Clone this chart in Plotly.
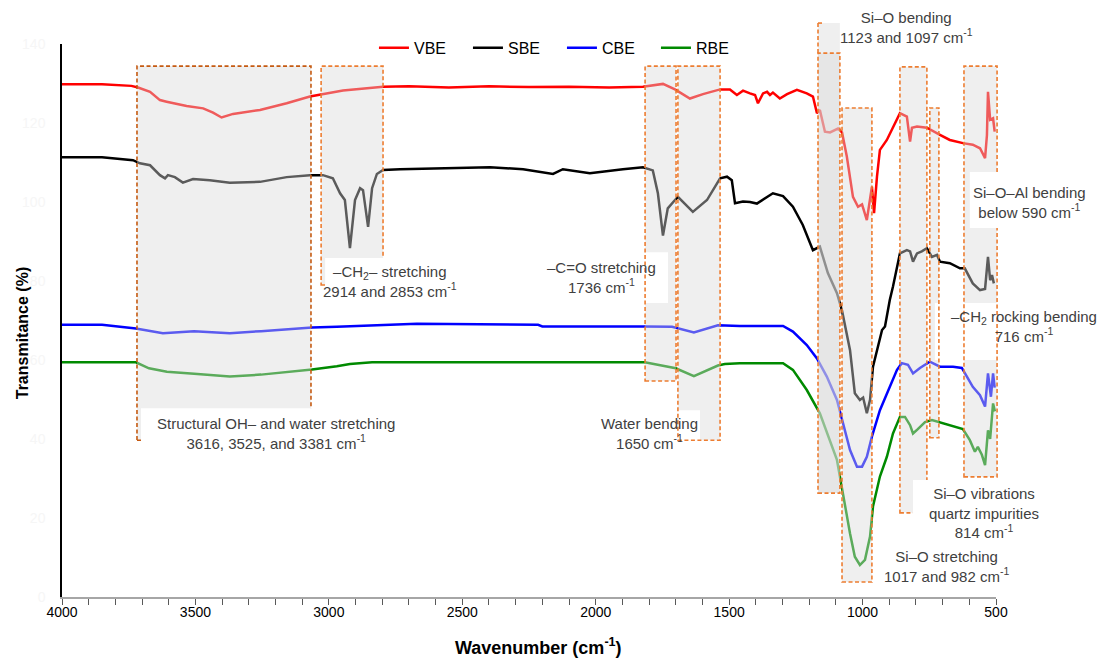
import plotly.graph_objects as go

# ---------------- data ----------------
vbe_wn = [4000, 3850, 3740, 3715, 3670, 3633, 3608, 3533, 3471, 3434, 3402, 3359, 3258, 3158, 3071, 2947,
          2797, 2700, 2550, 2400, 2250, 2100, 1950, 1823, 1748, 1703, 1647, 1598, 1534, 1497, 1471, 1448,
          1422, 1403, 1392, 1373, 1358, 1347, 1336, 1310, 1283, 1246, 1209, 1186, 1171, 1160, 1141, 1122,
          1092, 1077, 1059, 1036, 1017, 1002, 984, 972, 965, 957, 946, 935, 909, 860, 834, 822, 815, 796,
          759, 710, 673, 624, 587, 560, 541, 534, 530, 522, 511, 505]
vbe_t = [129.8, 129.8, 129.4, 129.0, 127.9, 125.8, 125.4, 124.3, 123.7, 122.6, 121.4, 122.3, 123.3, 125.0, 126.7, 128.2,
         129.2, 129.3, 129.0, 129.3, 129.1, 129.2, 129.0, 129.2, 129.9, 128.5, 126.2, 127.3, 128.5, 128.5, 127.1, 128.2,
         127.5, 127.1, 125.0, 127.5, 127.9, 127.1, 127.7, 126.2, 127.3, 128.4, 127.5, 126.7, 122.5, 123.3, 117.8, 117.6,
         118.6, 117.6, 111.5, 101.3, 98.8, 99.4, 95.4, 100.5, 103.9, 97.2, 106.4, 113.2, 115.7, 122.5, 121.6, 115.3, 118.8, 119.1,
         118.8, 117.0, 115.7, 114.9, 114.5, 113.6, 111.1, 116.9, 127.9, 120.8, 121.2, 117.8]

sbe_wn = [4000, 3850, 3734, 3708, 3670, 3633, 3614, 3603, 3577, 3547, 3509, 3446, 3371, 3258, 3158, 3071,
          3022, 2985, 2958, 2940, 2921, 2902, 2883, 2872, 2853, 2838, 2820, 2797, 2733, 2600, 2396, 2272,
          2160, 2123, 2022, 1898, 1823, 1786, 1767, 1748, 1730, 1703, 1692, 1636, 1583, 1534, 1508, 1490,
          1478, 1448, 1422, 1396, 1336, 1298, 1261, 1224, 1186, 1160, 1130, 1096, 1077, 1047, 1029, 1010,
          998, 984, 972, 961, 946, 927, 916, 898, 886, 860, 834, 822, 811, 796, 778, 759, 740, 721, 710,
          673, 635, 617, 587, 560, 541, 530, 522, 515, 508]
sbe_t = [111.3, 111.3, 110.6, 109.8, 109.3, 106.8, 106.0, 106.8, 106.3, 104.9, 105.8, 105.5, 104.9, 105.1, 106.3, 106.8,
         106.8, 106.0, 102.2, 100.5, 88.3, 100.5, 103.5, 103.0, 93.7, 103.5, 107.1, 108.1, 108.3, 108.5, 108.8, 108.3,
         107.1, 108.3, 107.3, 108.3, 108.8, 108.0, 102.2, 91.5, 98.4, 100.5, 101.3, 97.5, 100.5, 106.0, 106.4, 105.5,
         99.7, 100.1, 100.0, 99.6, 102.2, 101.5, 98.8, 94.2, 87.8, 88.7, 82.0, 76.9, 72.5, 62.5, 51.6, 49.9,
         50.5, 46.5, 49.9, 58.3, 62.5, 67.6, 68.5, 75.2, 78.6, 87.0, 87.8, 87.5, 84.9, 87.0, 87.5, 88.3, 86.1, 86.6, 84.9,
         84.5, 83.2, 83.2, 79.4, 77.7, 78.0, 86.1, 80.2, 81.5, 79.4]

cbe_wn = [4000, 3850, 3723, 3622, 3505, 3371, 3254, 3138, 3063, 2970, 2805, 2670, 2216, 2200, 1816, 1714,
          1632, 1542, 1460, 1298, 1261, 1209, 1171, 1134, 1096, 1074, 1047, 1021, 1002, 984, 965, 935,
          898, 871, 853, 830, 811, 785, 748, 710, 661, 628, 609, 587, 560, 541, 530, 519, 511, 505]
cbe_t = [68.9, 68.9, 68.0, 66.8, 67.3, 66.8, 67.3, 67.8, 68.2, 68.4, 68.9, 69.2, 68.9, 68.5, 68.5, 68.4,
         67.0, 68.8, 68.6, 68.6, 67.2, 63.8, 60.4, 55.8, 49.9, 44.0, 37.2, 33.0, 33.0, 35.5, 40.6, 47.3,
         53.2, 57.5, 59.2, 58.8, 56.6, 58.0, 59.6, 58.3, 58.3, 58.0, 55.8, 53.2, 51.1, 48.2, 56.6, 50.7, 56.6, 53.0]

rbe_wn = [4000, 3850, 3723, 3674, 3607, 3505, 3371, 3254, 3138, 3063, 2970, 2921, 2838, 2737, 1816, 1700,
          1632, 1542, 1516, 1460, 1298, 1261, 1209, 1160, 1122, 1096, 1085, 1066, 1047, 1029, 1010, 991,
          972, 961, 935, 909, 886, 860, 841, 822, 811, 793, 766, 740, 710, 661, 624, 598, 579, 568, 553,
          541, 530, 522, 511, 504]
rbe_t = [59.4, 59.4, 59.4, 57.9, 57.0, 56.5, 55.8, 56.3, 57.0, 57.6, 58.4, 59.0, 59.4, 59.4, 59.4, 57.9,
         55.9, 58.6, 59.0, 59.2, 59.2, 57.5, 52.4, 46.5, 39.7, 34.7, 30.5, 22.9, 16.1, 10.2, 8.1, 9.4,
         15.3, 22.9, 30.5, 35.5, 41.4, 45.6, 45.6, 43.5, 41.4, 42.5, 44.3, 44.8, 44.2, 43.1, 42.5, 39.7, 36.8, 38.0, 36.0,
         33.4, 42.2, 40.0, 49.0, 47.0]

series_names = ["VBE", "SBE", "CBE", "RBE"]
x_ticks = [4000, 3500, 3000, 2500, 2000, 1500, 1000, 500]
y_ticks = [0, 20, 40, 60, 80, 100, 120, 140]

# ---------------- layout helpers ----------------
X0, X1 = 4000, 500
Y0, Y1 = 0, 140


def xp(wn):
    return (X0 - wn) / (X0 - X1)


def yp(t):
    return (t - Y0) / (Y1 - Y0)


colors = ["#FF0000", "#000000", "#0000FF", "#008A00"]
fig = go.Figure()
for name, wn, t, c in zip(series_names, [vbe_wn, sbe_wn, cbe_wn, rbe_wn],
                          [vbe_t, sbe_t, cbe_t, rbe_t], colors):
    fig.add_trace(go.Scatter(x=wn, y=t, mode="lines", name=name,
                             line=dict(color=c, width=2.5)))

# band boxes: (wn_left, wn_right, t_bottom, t_top, outline colour)
DARK = "#C55A11"
ORANGE = "#ED7D31"
boxes = [
    (3719, 3067, 39.7, 134.4, DARK),
    (3029, 2797, 79.0, 134.4, ORANGE),
    (1815, 1699, 54.7, 134.4, ORANGE),
    (1692, 1534, 39.7, 134.4, ORANGE),
    (1167, 1085, 26.3, 137.7, ORANGE),
    (1077, 965, 3.8, 123.8, ORANGE),
    (860, 759, 21.3, 134.2, ORANGE),
    (748, 714, 40.3, 123.8, ORANGE),
    (620, 496, 30.4, 134.4, ORANGE),
]
FILL = "rgba(217,217,217,0.42)"
shapes = []
for (a, b, lo, hi, c) in boxes:
    shapes.append(dict(type="rect", xref="paper", yref="paper", layer="above",
                       x0=xp(a), x1=xp(b), y0=yp(lo), y1=yp(hi),
                       fillcolor=FILL, line=dict(width=0)))
shapes.append(dict(type="rect", xref="paper", yref="paper", layer="above",
                   x0=xp(1167), x1=xp(1085), y0=yp(26.3), y1=yp(145.3),
                   fillcolor=FILL, line=dict(width=0)))

# white label panels: (wn_left, wn_right, t_bottom, t_top)
white_under = [(2190, 1729, 74.4, 87.3), (1991, 1609, 35.9, 47.3), (729, 114, 60.0, 74.4)]
white_over = [(3704, 2658, 34.7, 47.8), (3014, 2527, 75.2, 85.8), (598, 114, 93.4, 107.6),
              (811, 114, 13.2, 29.6), (950, 410, 1.3, 12.4)]


def white(a, b, lo, hi):
    return dict(type="rect", xref="paper", yref="paper", layer="above",
                x0=xp(a), x1=xp(b), y0=yp(lo), y1=yp(hi),
                fillcolor="white", line=dict(width=0))


for w in white_under:
    shapes.append(white(*w))
for (a, b, lo, hi, c) in boxes:
    shapes.append(dict(type="rect", xref="paper", yref="paper", layer="above",
                       x0=xp(a), x1=xp(b), y0=yp(lo), y1=yp(hi),
                       fillcolor="rgba(0,0,0,0)", line=dict(color=c, width=1.6, dash="4px,2.5px")))
shapes.append(dict(type="line", xref="paper", yref="paper", layer="above",
                   x0=xp(1167), x1=xp(1167), y0=yp(137.7), y1=yp(145.3),
                   line=dict(color=ORANGE, width=1.6, dash="4px,2.5px")))
shapes.append(dict(type="line", xref="paper", yref="paper", layer="above",
                   x0=xp(1167), x1=xp(1150), y0=yp(145.3), y1=yp(145.3),
                   line=dict(color=ORANGE, width=1.6, dash="4px,2.5px")))
for w in white_over:
    shapes.append(white(*w))

# labels: (text, wn_center, t_center)
labels = [
    ("Structural OH– and water stretching<br>3616, 3525, and 3381 cm<sup>-1</sup>", 3198, 41.3),
    ("–CH<sub>2</sub>– stretching<br>2914 and 2853 cm<sup>-1</sup>", 2771, 80.0),
    ("–C=O stretching<br>1736 cm<sup>-1</sup>", 1980, 81.0),
    ("Water bending<br>1650 cm<sup>-1</sup>", 1797, 41.3),
    ("Si–O bending<br>1123 and 1097 cm<sup>-1</sup>", 834, 144.1),
    ("Si–O–Al bending<br>below 590 cm<sup>-1</sup>", 373, 100.0),
    ("–CH<sub>2</sub> rocking bending<br>716 cm<sup>-1</sup>", 395, 68.4),
    ("Si–O vibrations<br>quartz impurities<br>814 cm<sup>-1</sup>", 545, 21.3),
    ("Si–O stretching<br>1017 and 982 cm<sup>-1</sup>", 684, 7.6),
]
annotations = []
for txt, wn, t in labels:
    annotations.append(dict(text=txt, xref="paper", yref="paper", x=xp(wn), y=yp(t),
                            xanchor="center", yanchor="middle", showarrow=False,
                            font=dict(family="Liberation Sans, Arial", size=15, color="#404040")))

# axis titles
annotations.append(dict(text="<b>Wavenumber (cm<sup>-1</sup>)</b>", xref="paper", yref="paper",
                        x=xp(2213), y=-0.09, xanchor="center", yanchor="middle", showarrow=False,
                        font=dict(family="Liberation Sans, Arial", size=18, color="black")))
annotations.append(dict(text="<b>Transmitance (%)</b>", xref="paper", yref="paper",
                        x=-0.0428, y=0.477, xanchor="center", yanchor="middle", showarrow=False,
                        textangle=-90,
                        font=dict(family="Liberation Sans, Arial", size=16, color="black")))

fig.update_layout(
    width=1099, height=658,
    margin=dict(l=62, r=103, t=44, b=61),
    paper_bgcolor="white", plot_bgcolor="white",
    font=dict(family="Liberation Sans, Arial", color="black"),
    shapes=shapes, annotations=annotations,
    showlegend=True,
    legend=dict(orientation="h", x=0.334, y=0.993, xanchor="left", yanchor="middle",
                font=dict(size=16, color="black"), bgcolor="rgba(0,0,0,0)",
                entrywidth=49, entrywidthmode="pixels", itemwidth=30),
    xaxis=dict(range=[X0, X1], tickvals=x_ticks, ticktext=[str(v) for v in x_ticks],
               ticks="outside", ticklen=6, tickcolor="#595959", tickwidth=1,
               showline=True, linecolor="#A6A6A6", linewidth=1.5, showgrid=False, zeroline=False,
               minor=dict(dtick=100, tick0=500, ticks="outside", ticklen=6, tickcolor="#595959", showgrid=False),
               tickfont=dict(size=14, color="black"), ticklabelstandoff=-5),
    yaxis=dict(range=[Y0, Y1], tickvals=y_ticks, ticks="", showline=True, linecolor="black", linewidth=1.5,
               showgrid=False, zeroline=False, tickfont=dict(size=14, color="#F6F6F6"), ticklabelstandoff=12),
)

fig.write_html("out.html")
